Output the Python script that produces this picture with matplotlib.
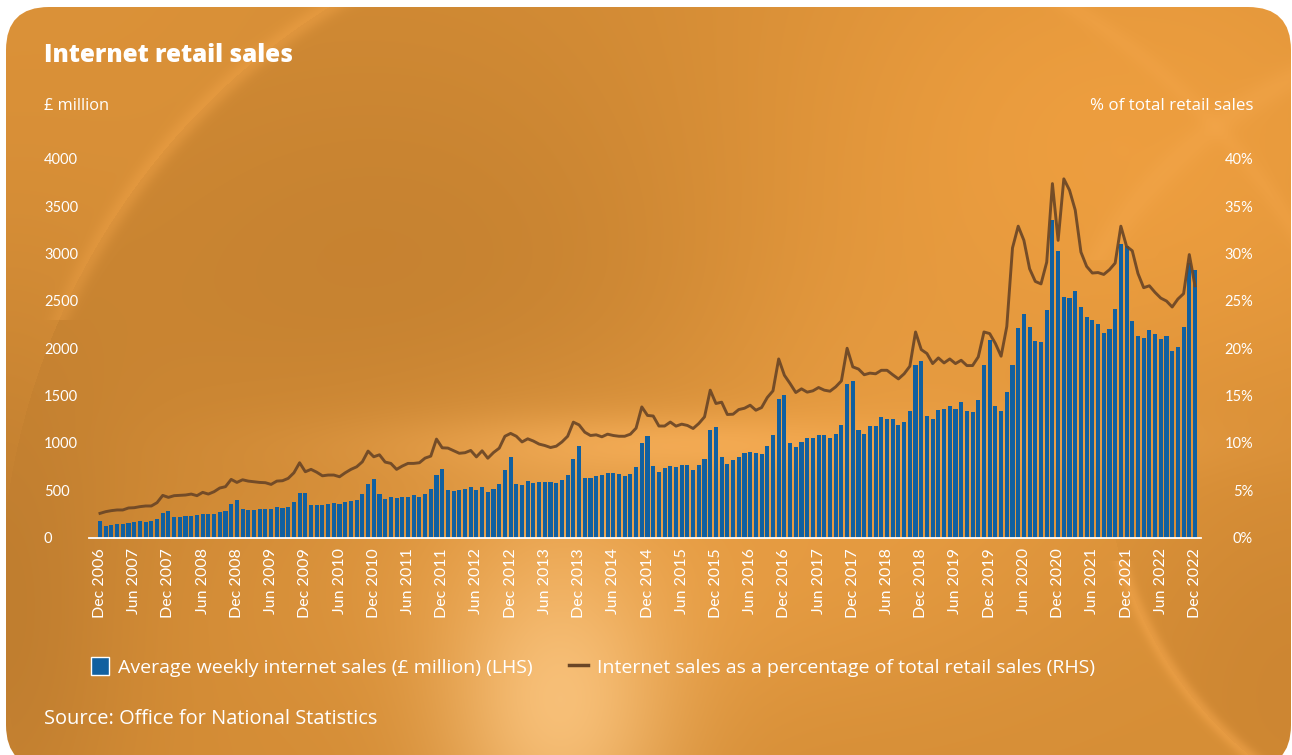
import numpy as np
import pandas as pd
import matplotlib
matplotlib.use("Agg")
import matplotlib.pyplot as plt
from matplotlib.patches import FancyBboxPatch, Patch
from matplotlib.lines import Line2D

# ---- data -----------------------------------------------------------------
months = pd.date_range("2006-12-01", "2022-12-01", freq="MS")
month_labels = [d.strftime("%b %Y") for d in months]

weekly_sales = [
    174, 121, 132, 142, 142, 153, 163, 174, 163, 174, 195, 258, 279,
    216, 216, 227, 227, 237, 248, 248, 248, 269, 279, 353, 395,
    300, 290, 290, 300, 300, 300, 322, 315, 322, 373, 475, 475,
    343, 343, 343, 353, 364, 353, 373, 385, 395, 459, 564, 617,
    459, 406, 427, 416, 427, 427, 448, 427, 459, 511, 659, 723,
    501, 490, 501, 511, 532, 501, 532, 480, 512, 564, 712, 849,
    564, 554, 596, 575, 585, 585, 585, 575, 606, 659, 828, 965,
    628, 628, 649, 659, 680, 680, 670, 649, 670, 744, 997, 1071,
    754, 691, 733, 754, 744, 765, 765, 712, 765, 828, 1134, 1166,
    849, 775, 817, 849, 891, 902, 891, 881, 965, 1081, 1460, 1503,
    997, 955, 1007, 1050, 1050, 1081, 1081, 1050, 1092, 1187, 1620, 1651,
    1134, 1092, 1176, 1176, 1271, 1250, 1250, 1187, 1218, 1334, 1820, 1861,
    1282, 1250, 1345, 1355, 1387, 1355, 1429, 1334, 1324, 1451, 1820, 2084,
    1387, 1334, 1535, 1820, 2210, 2358, 2221, 2074, 2063, 2401, 3360, 3033,
    2537, 2526, 2600, 2431, 2326, 2295, 2253, 2158, 2200, 2411, 3107, 3076,
    2284, 2126, 2105, 2189, 2147, 2095, 2126, 1968, 2010, 2221, 2906, 2832,
]

share_pct = [
    2.55, 2.73, 2.84, 2.91, 2.91, 3.12, 3.15, 3.26, 3.33, 3.33, 3.68, 4.45, 4.24,
    4.42, 4.45, 4.49, 4.59, 4.42, 4.77, 4.59, 4.84, 5.23, 5.37, 6.14, 5.82,
    6.10, 5.96, 5.89, 5.82, 5.79, 5.61, 5.96, 6.00, 6.25, 6.84, 7.90, 6.95,
    7.20, 6.90, 6.52, 6.60, 6.60, 6.42, 6.84, 7.20, 7.47, 8.00, 9.13, 8.53,
    8.74, 7.97, 7.83, 7.20, 7.55, 7.83, 7.83, 7.90, 8.39, 8.60, 10.40, 9.48,
    9.45, 9.17, 8.90, 8.96, 9.20, 8.52, 9.16, 8.38, 8.98, 9.44, 10.70, 11.00,
    10.70, 10.10, 10.43, 10.19, 9.87, 9.72, 9.51, 9.65, 10.10, 10.70, 12.19, 11.90,
    11.13, 10.78, 10.85, 10.64, 10.92, 10.78, 10.70, 10.70, 10.92, 11.56, 13.80, 12.90,
    12.84, 11.78, 11.78, 12.20, 11.77, 11.98, 11.84, 11.52, 12.05, 12.75, 15.57, 14.16,
    14.30, 13.00, 13.03, 13.52, 13.66, 13.98, 13.45, 13.73, 14.79, 15.50, 18.87, 17.15,
    16.27, 15.32, 15.71, 15.36, 15.50, 15.85, 15.57, 15.46, 15.92, 16.55, 20.00, 18.03,
    17.80, 17.20, 17.37, 17.30, 17.67, 17.67, 17.20, 16.76, 17.30, 18.10, 21.72, 19.86,
    19.44, 18.38, 18.98, 18.45, 18.87, 18.38, 18.73, 18.17, 18.17, 19.09, 21.72, 21.55,
    20.50, 19.16, 22.30, 30.60, 32.90, 31.40, 28.40, 27.06, 26.80, 29.10, 37.40, 31.40,
    37.90, 36.70, 34.60, 30.16, 28.65, 27.95, 28.00, 27.80, 28.30, 29.00, 32.90, 30.77,
    30.30, 27.90, 26.40, 26.60, 25.90, 25.30, 24.99, 24.36, 25.20, 25.77, 29.90, 26.60,
]

left_ticks = [0, 500, 1000, 1500, 2000, 2500, 3000, 3500, 4000]
right_ticks = [0, 5, 10, 15, 20, 25, 30, 35, 40]

BAR = "#1160a0"
LINE = "#6b4626"
TICK_FONT = "Lato"
TEXT_FONT = "Open Sans"

W, H = 1292, 755
fig = plt.figure(figsize=(W / 100, H / 100), dpi=100)
fig.patch.set_facecolor("white")

# ---- orange card background --------------------------------------------------
yy, xx = np.mgrid[0:H, 0:W].astype(float)
img = np.zeros((H, W, 3))
img[:] = np.array([214, 142, 54]) / 255.0


def blend(weight, rgb):
    global img
    c = np.array(rgb) / 255.0
    w = np.clip(weight, 0, 1)[..., None]
    img = img * (1 - w) + c * w


def gauss(cx, cy, sx, sy):
    return np.exp(-(((xx - cx) / sx) ** 2 + ((yy - cy) / sy) ** 2) / 2)


blend(0.9 * gauss(480, 320, 380, 240), (194, 127, 47))
blend(0.9 * gauss(1120, 150, 280, 220), (240, 160, 64))
r = np.hypot(xx - 700, yy - 600)
blend(0.85 * (r > 700) * gauss(0, 0, 400, 400), (221, 147, 57))
blend(0.45 * np.exp(-((r - 700) / 7) ** 2 / 2) * (yy < 320), (242, 164, 72))
blend(0.75 * gauss(620, 560, 260, 120), (238, 163, 72))
blend(0.85 * gauss(770, 445, 230, 22), (250, 178, 92))
blend(0.9 * gauss(560, 700, 80, 110), (250, 196, 126))
blend(0.6 * gauss(900, 420, 140, 140), (236, 160, 68))
blend(0.7 * gauss(0, 620, 90, 220), (184, 120, 45))
r3 = np.hypot(xx - 1500, yy - 450)
blend(0.55 * (r3 < 395) * gauss(1292, 680, 120, 160), (198, 128, 47))
blend(0.5 * np.exp(-((r3 - 395) / 5) ** 2 / 2) * (yy > 560), (246, 168, 78))
r2 = np.hypot(xx - 1500, yy - 500)
blend(0.35 * np.exp(-((r2 - 470) / 10) ** 2 / 2) * (yy < 260), (246, 170, 80))

bg = fig.add_axes([0, 0, 1, 1])
bg.set_xlim(0, W)
bg.set_ylim(H, 0)
bg.axis("off")
im = bg.imshow(img, extent=[0, W, H, 0], aspect="auto", interpolation="bilinear")
card = FancyBboxPatch((6, 7), 1285, 761,
                      boxstyle="round,pad=0,rounding_size=43",
                      transform=bg.transData, facecolor="none", edgecolor="none")
bg.add_patch(card)
im.set_clip_path(card)

# ---- chart ---------------------------------------------------------------------
x = np.arange(len(weekly_sales))
L, R = 88.6, 1200.7
B, T = 537.5, 159.0
ax = fig.add_axes([L / W, 1 - B / H, (R - L) / W, (B - T) / H])
ax.set_facecolor("none")
ax.bar(x, weekly_sales, width=0.72, color=BAR, zorder=2)
ax.set_xlim(-2, len(x))
ax.set_ylim(0, 4000)

for side in ["top", "left", "right"]:
    ax.spines[side].set_visible(False)
ax.spines["bottom"].set_color("white")
ax.spines["bottom"].set_linewidth(1.3)
ax.spines["bottom"].set_zorder(3)

ax.set_yticks(left_ticks)
ax.set_yticklabels([str(v) for v in left_ticks], ha="left")
ax.tick_params(axis="y", length=0, pad=(L - 44) * 0.72, labelsize=10.5,
               labelcolor="white")
for lab in ax.get_yticklabels():
    lab.set_fontfamily(TICK_FONT)

tick_pos = list(range(0, len(x), 6))
ax.set_xticks(tick_pos)
ax.set_xticklabels([month_labels[i] for i in tick_pos], rotation=90,
                   va="top", ha="center", fontfamily=TICK_FONT)
ax.tick_params(axis="x", length=0, pad=7.5, labelsize=11.5, labelcolor="white")

ax2 = ax.twinx()
ax2.set_facecolor("none")
ax2.plot(x, share_pct, color=LINE, lw=2.1, alpha=0.92, solid_joinstyle="round",
         zorder=4)
ax2.set_ylim(0, 40)
for side in ["top", "left", "right", "bottom"]:
    ax2.spines[side].set_visible(False)
ax2.set_yticks(right_ticks)
ax2.set_yticklabels([f"{v}%" for v in right_ticks], ha="right")
ax2.tick_params(axis="y", length=0, pad=(1253 - R) * 0.72, labelsize=10.5,
                labelcolor="white")
for lab in ax2.get_yticklabels():
    lab.set_fontfamily(TICK_FONT)

# ---- text ------------------------------------------------------------------------
fig.text(44 / W, 1 - 55 / H, "Internet retail sales", color="white",
         fontsize=17.5, fontweight="heavy", fontfamily=TEXT_FONT, va="center",
         ha="left")
fig.text(44 / W, 1 - 106 / H, "£ million", color="white", fontsize=11.8,
         fontfamily=TEXT_FONT, va="center", ha="left")
fig.text(1253 / W, 1 - 106 / H, "% of total retail sales", color="white",
         fontsize=12.2, fontfamily=TEXT_FONT, va="center", ha="right")
fig.text(44 / W, 1 - 719 / H, "Source: Office for National Statistics",
         color="white", fontsize=14.4, fontfamily=TEXT_FONT, va="center", ha="left")

handles = [
    Patch(facecolor=BAR, edgecolor="white", linewidth=1.0),
    Line2D([0], [0], color=LINE, lw=2.5),
]
labels = [
    "Average weekly internet sales (£ million) (LHS)",
    "Internet sales as a percentage of total retail sales (RHS)",
]
leg = fig.legend(handles, labels, loc="center left",
                 bbox_to_anchor=(73 / W, 1 - 667 / H), ncol=2, frameon=False,
                 handlelength=0.95, handleheight=1.0, handletextpad=0.45,
                 columnspacing=1.9,
                 prop={"family": TEXT_FONT, "size": 14})
for t in leg.get_texts():
    t.set_color("white")

fig.savefig("out.png", dpi=100)
